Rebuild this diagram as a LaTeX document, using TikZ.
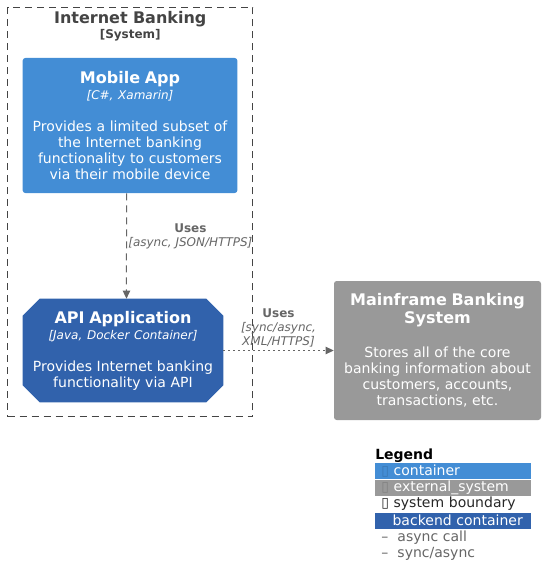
\documentclass[tikz,border=0pt]{standalone}
\usepackage{fontspec}
\setmainfont{DejaVu Sans}
\usepackage{xcolor}
\usepackage{tikz}
\usetikzlibrary{positioning,calc,arrows.meta,backgrounds}

\definecolor{c4container}{HTML}{438DD5}
\definecolor{c4backend}{HTML}{3162AC}
\definecolor{c4external}{HTML}{999999}
\definecolor{c4boundary}{HTML}{444444}
\definecolor{c4arrow}{HTML}{666666}

\newcommand{\elemtitle}[1]{{\fontsize{12}{12}\selectfont\bfseries #1}}
\newcommand{\elemtech}[1]{{\fontsize{9}{9}\selectfont\itshape [#1]}}

\begin{document}
\begin{tikzpicture}[x=0.75pt, y=-0.75pt,
    elem/.style={rectangle, rounded corners=2pt, text=white, align=center, inner sep=0pt,
      font=\fontsize{10.5}{12}\selectfont},
    boundarybox/.style={rectangle, draw=c4boundary, line width=0.75pt, dash pattern=on 5.25pt off 3.75pt},
    boundarytitle/.style={text=c4boundary, align=center, inner sep=0pt, text width=180pt,
      font=\fontsize{12}{11}\selectfont\bfseries},
    conlabel/.style={text=c4arrow, align=center, inner sep=0pt, font=\fontsize{9}{10.5}\selectfont},
    asyncarrow/.style={draw=c4arrow, line width=0.75pt, dash pattern=on 5.25pt off 3.75pt,
      -{Triangle[length=6pt, width=5.5pt]}},
    syncarrow/.style={draw=c4arrow, line width=0.75pt, dash pattern=on 1.5pt off 2.25pt,
      -{Triangle[length=6pt, width=5.5pt]}},
    legrow/.style={rectangle, anchor=west, inner xsep=4.5pt, inner ysep=0pt, minimum height=12pt,
      text width=108pt, align=left, font=\fontsize{10.5}{12}\selectfont}]
    \useasboundingbox (0,0) rectangle (554,585);

    % system boundary
    \node[boundarybox, minimum width=184.1pt, minimum height=307.1pt] (ibank) at (130.25,212.25) {};
    \node[boundarytitle, below=3.2pt of ibank.north] (ibanktitle) {Internet Banking\\ {\fontsize{9}{11}\selectfont [System]}};

    % containers
    \node[elem, fill=c4container, minimum width=161pt, minimum height=101.25pt, text width=161pt] (mobile) at (130,125.5)
      {\elemtitle{Mobile App}\\ \elemtech{C\#, Xamarin}\\[12pt] Provides a limited subset of\\ the Internet banking\\ functionality to customers\\ via their mobile device};
    \node[elem, minimum width=150pt, minimum height=77.25pt, text width=150pt] (apiapp) at (123,350.5)
      {\elemtitle{API Application}\\ \elemtech{Java, Docker Container}\\[12pt] Provides Internet banking\\ functionality via API};
    \begin{scope}[on background layer]
      \fill[c4backend] ($(apiapp.north west)+(17,0)$) -- ($(apiapp.north east)+(-17,0)$) -- ($(apiapp.north east)+(0,17)$)
        -- ($(apiapp.south east)+(0,-17)$) -- ($(apiapp.south east)+(-17,0)$) -- ($(apiapp.south west)+(17,0)$)
        -- ($(apiapp.south west)+(0,-17)$) -- ($(apiapp.north west)+(0,17)$) -- cycle;
    \end{scope}

    % external system
    \node[elem, fill=c4external, minimum width=155.25pt, minimum height=104.25pt, text width=155.25pt] (mainframe) at (437.5,350.5)
      {\elemtitle{Mainframe Banking}\\[1.5pt] \elemtitle{System}\\[13.5pt] Stores all of the core\\ banking information about\\ customers, accounts,\\ transactions, etc.};

    % relations
    \draw[asyncarrow] ([xshift=-2.6pt]mobile.south) -- ([xshift=2.6pt]apiapp.north)
      node[conlabel, pos=0.41, anchor=west, xshift=1pt] (usesasync) {\textbf{Uses}\\ {\itshape [async, JSON/HTTPS]}};
    \draw[syncarrow] (apiapp.east) -- (mainframe.west)
      node[conlabel, midway, above=2pt] (usessync) {\textbf{Uses}\\ {\itshape [sync/async,}\\ {\itshape XML/HTTPS]}};

    % legend
    \node[anchor=base west, inner sep=0pt, font=\fontsize{10.5}{12}\selectfont\bfseries] (legend) at (375,459.5) {Legend};
    \node[legrow, fill=c4container, text=white] (legcontainer) at (375,471) {{\color{c4container!85!black}▯} container};
    \node[legrow, fill=c4external, text=white, below=0pt of legcontainer] (legexternal) {{\color{c4external!85!black}▯} external\_system};
    \node[legrow, text=black!85, below=0pt of legexternal] (legboundary) {▯ system boundary};
    \node[legrow, fill=c4backend, text=white, below=0pt of legboundary] (legbackend) {\hspace*{8.5pt}backend container};
    \node[legrow, text=c4arrow, below=0pt of legbackend] (legasync) {–\hspace{3.4pt} async call};
    \node[legrow, text=c4arrow, below=0pt of legasync] (legsync) {–\hspace{3.4pt} sync/async};
\end{tikzpicture}
\end{document}
